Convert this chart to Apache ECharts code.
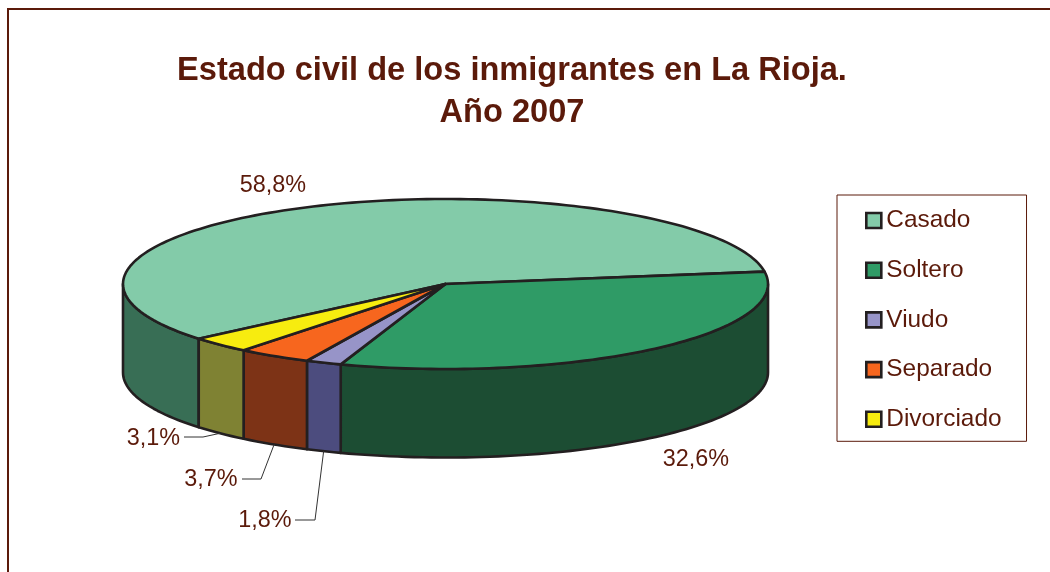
<!DOCTYPE html>
<html>
<head>
<meta charset="utf-8">
<style>html,body{margin:0;padding:0;background:#fff}#c{width:1050px;height:572px}</style>
<script src="https://cdn.jsdelivr.net/npm/echarts@6/dist/echarts.min.js"></script>
</head>
<body>
<div id="c"></div>
<script>
const categories = ['Casado', 'Soltero', 'Viudo', 'Separado', 'Divorciado'];
const percentages = [58.8, 32.6, 1.8, 3.7, 3.1];
const topColors = ['#83CBA9', '#2F9B66', '#9794C8', '#F7661E', '#F7EC0F'];
const wallColors = ['#386E55', '#1C4D33', '#4C4C7E', '#7D3316', '#7F8233'];
const titleText = 'Estado civil de los inmigrantes en La Rioja.\nAño 2007';

const TEXT = '#5B1A0A', EDGE = '#231F20', FONT = '"Liberation Sans", Arial, sans-serif';
const cx = 445.5, cy = 284, rx = 322.5, ry = 85, depth = 88.5;
const rad = d => d * Math.PI / 180;
const total = percentages.reduce((a, b) => a + b, 0);
const firstAngle = 351.6 - percentages[0] / total * 360;
const starts = [];
percentages.reduce((a, v, i) => { starts[i] = a; return a + v / total * 360; }, firstAngle);

const pt = (t, dy) => [cx + rx * Math.cos(rad(t)), cy + (dy || 0) + ry * Math.sin(rad(t))];
function arc(a, b, dy) {
  const n = Math.max(2, Math.ceil(Math.abs(b - a) / 1.5)), out = [];
  for (let i = 0; i <= n; i++) out.push(pt(a + (b - a) * i / n, dy));
  return out;
}
// placement of each percentage label: text centre, optional elbow of its leader
const labelLayout = [
  { x: 273, y: 185.5 },
  { x: 696, y: 459.5 },
  { x: 265, y: 521, elbow: [315, 520], end: 295 },
  { x: 211, y: 480, elbow: [261, 479], end: 242 },
  { x: 153.5, y: 438.5, elbow: [203, 437], end: 184 }
];

function renderSlice(i) {
  return function (params, api) {
    const v = api.value(0);
    const a = starts[i], b = a + v / total * 360;
    const children = [];
    [[0, 180], [360, 540]].forEach(([lo, hi]) => {
      const s = Math.max(a, lo), e = Math.min(b, hi);
      if (e > s) {
        children.push({
          type: 'polygon', z2: 1,
          shape: { points: arc(s, e, 0).concat(arc(e, s, depth)) },
          style: { fill: wallColors[i], stroke: EDGE, lineWidth: 2.6, lineJoin: 'round' }
        });
      }
    });
    children.push({
      type: 'polygon', z2: 2,
      shape: { points: [[cx, cy]].concat(arc(a, b, 0)) },
      style: { fill: topColors[i], stroke: EDGE, lineWidth: 2.6, lineJoin: 'round' }
    });
    const L = labelLayout[i];
    if (L.elbow) {
      children.push({
        type: 'polyline', z2: 3,
        shape: { points: [[L.end, L.elbow[1]], L.elbow, pt((a + b) / 2, depth)] },
        style: { fill: 'none', stroke: '#333', lineWidth: 1 }
      });
    }
    children.push({
      type: 'text', z2: 4,
      style: {
        text: v.toFixed(1).replace('.', ',') + '%', x: L.x, y: L.y,
        align: 'center', verticalAlign: 'middle',
        font: '23.4px ' + FONT, fill: TEXT
      }
    });
    return { type: 'group', children };
  };
}

const chart = echarts.init(document.getElementById('c'), null, { renderer: 'canvas' });
chart.setOption({
  animation: false,
  backgroundColor: '#fff',
  title: {
    text: titleText, left: 507, top: 45.5, textAlign: 'center',
    textStyle: { color: TEXT, fontFamily: FONT, fontWeight: 'bold', fontSize: 32.6, lineHeight: 42 }
  },
  legend: {
    orient: 'vertical', left: 837, top: 195, selectedMode: false,
    data: categories, icon: 'rect', itemWidth: 15, itemHeight: 15, itemGap: 25.7,
    padding: [13.5, 25, 10, 28],
    borderColor: TEXT, borderWidth: 1, backgroundColor: '#fff',
    itemStyle: { borderColor: EDGE, borderWidth: 2.6 },
    textStyle: { color: TEXT, fontFamily: FONT, fontSize: 24.4, padding: [1, 0, 0, 0] }
  },
  graphic: [
    { type: 'line', shape: { x1: 8, y1: 9, x2: 1050, y2: 9 }, style: { stroke: TEXT, lineWidth: 2 } },
    { type: 'line', shape: { x1: 8, y1: 8, x2: 8, y2: 572 }, style: { stroke: TEXT, lineWidth: 2 } }
  ],
  series: categories.map((name, i) => ({
    type: 'custom', name, coordinateSystem: 'none', silent: true,
    itemStyle: { color: topColors[i] },
    renderItem: renderSlice(i),
    data: [[percentages[i]]]
  }))
});
</script>
</body>
</html>
